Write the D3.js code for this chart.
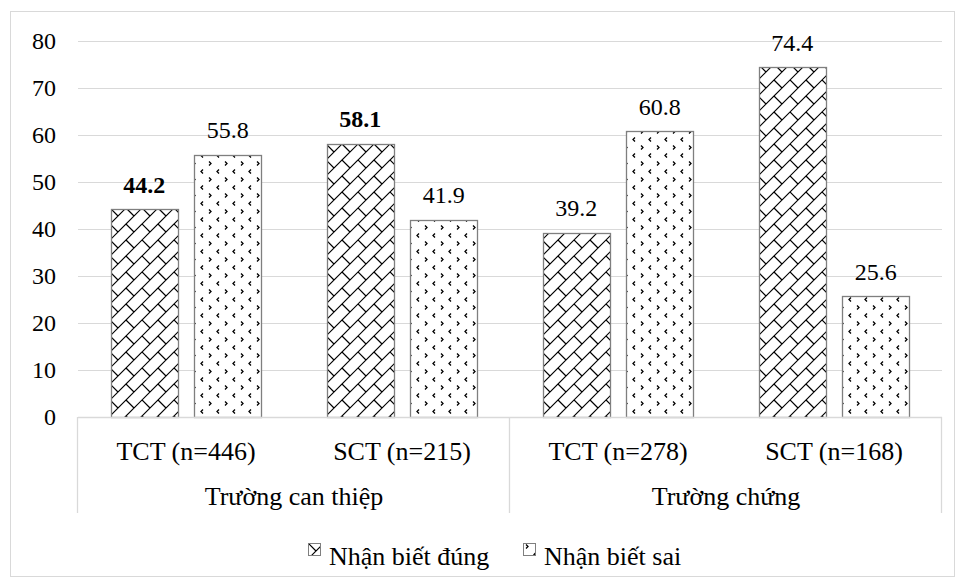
<!DOCTYPE html>
<html>
<head>
<meta charset="utf-8">
<script src="https://cdn.jsdelivr.net/npm/d3@7"></script>
<style>
  html, body { margin: 0; padding: 0; background: #fff; }
  svg { display: block; }
  svg text { font-family: "Liberation Serif", "Times New Roman", serif; fill: #000; }
</style>
</head>
<body>
<svg id="chart" width="956" height="581"></svg>
<script>
// Data
const groups = ["Trường can thiệp", "Trường chứng"];
const categories = ["TCT (n=446)", "SCT (n=215)", "TCT (n=278)", "SCT (n=168)"];
const categoryGroup = [0, 0, 1, 1];
const seriesNames = ["Nhận biết đúng", "Nhận biết sai"];
const correctValues = [44.2, 58.1, 39.2, 74.4];
const wrongValues = [55.8, 41.9, 60.8, 25.6];
const boldLabels = [[true, true, false, false], [false, false, false, false]];
const yTicks = [0, 10, 20, 30, 40, 50, 60, 70, 80];

const seriesValues = [correctValues, wrongValues];

const svg = d3.select("#chart");
const plot = { left: 78, right: 942, top: 41, bottom: 416.5 };
const serif = "'Liberation Serif', 'Times New Roman', serif";

// Fill patterns: diagonal brick and small chevron dots
const defs = svg.append("defs");
const brick = defs.append("pattern")
  .attr("id", "pat-brick").attr("patternUnits", "userSpaceOnUse")
  .attr("width", 32).attr("height", 32);
brick.append("rect").attr("width", 32).attr("height", 32).attr("fill", "#fff");
const brickLines = [0, 16, 32, 48, 64].map(s => `M${-32},${s + 32}L${s + 32},${-32}`);
const brickStubs = ["M0,0L8,8", "M16,16L24,24", "M16,0L24,8", "M0,16L8,24"];
brick.append("path")
  .attr("d", brickLines.concat(brickStubs).join(""))
  .attr("stroke", "#000").attr("stroke-width", 1.2).attr("fill", "none");

const dots = defs.append("pattern")
  .attr("id", "pat-dots").attr("patternUnits", "userSpaceOnUse")
  .attr("width", 16).attr("height", 16);
dots.append("rect").attr("width", 16).attr("height", 16).attr("fill", "#fff");
dots.append("path")
  .attr("d", "M3,1.5L5,3.5L3,5.5M13,9.5L11,11.5L13,13.5")
  .attr("stroke", "#000").attr("stroke-width", 1.3).attr("fill", "none");

const fills = ["url(#pat-brick)", "url(#pat-dots)"];

// Outer frame
svg.append("rect")
  .attr("x", 10.5).attr("y", 11.5).attr("width", 944).attr("height", 565)
  .attr("fill", "#fff").attr("stroke", "#d9d9d9").attr("stroke-width", 1);

// Scales
const y = d3.scaleLinear().domain([0, 80]).range([plot.bottom, plot.top]);
const x0 = d3.scaleBand().domain(categories).range([plot.left, plot.right]).padding(0);
const x1 = d3.scaleBand().domain(seriesNames).range([0, x0.bandwidth()])
  .paddingInner(0.2).paddingOuter(0.39);

// Gridlines
svg.append("g")
  .selectAll("line").data(yTicks.filter(d => d > 0)).join("line")
  .attr("x1", plot.left).attr("x2", plot.right)
  .attr("y1", d => Math.round(y(d)) + 0.5).attr("y2", d => Math.round(y(d)) + 0.5)
  .attr("stroke", "#d9d9d9").attr("stroke-width", 1);

// Y axis labels
const yAxis = d3.axisLeft(y).tickValues(yTicks).tickSize(0).tickPadding(0);
const yg = svg.append("g").attr("transform", `translate(${plot.left - 22},0)`).call(yAxis);
yg.select(".domain").remove();
yg.attr("font-family", null).attr("font-size", null);
yg.selectAll("text")
  .style("font-family", serif)
  .style("font-size", "24px").attr("fill", "#000");

// Bars and value labels
const catG = svg.append("g").selectAll("g").data(categories).join("g")
  .attr("transform", d => `translate(${x0(d)},0)`);

catG.each(function (cat, ci) {
  const g = d3.select(this);
  seriesNames.forEach((s, si) => {
    const v = seriesValues[si][ci];
    g.append("rect")
      .attr("x", Math.round(x1(s)) + 0.5)
      .attr("y", Math.round(y(v)) + 0.5)
      .attr("width", Math.round(x1.bandwidth()))
      .attr("height", Math.round(y(0)) - Math.round(y(v)))
      .attr("fill", fills[si])
      .attr("stroke", "#7f7f7f").attr("stroke-width", 1.3);
    g.append("text")
      .attr("x", x1(s) + x1.bandwidth() / 2)
      .attr("y", y(v) - 16.5)
      .attr("text-anchor", "middle")
      .style("font-family", serif)
      .style("font-size", "24px")
      .style("font-weight", boldLabels[si][ci] ? "bold" : "normal")
      .text(d3.format(".1f")(v));
  });
});

// Category axis baseline and group dividers
svg.append("line")
  .attr("x1", plot.left).attr("x2", plot.right)
  .attr("y1", Math.round(y(0)) + 0.5).attr("y2", Math.round(y(0)) + 0.5)
  .attr("stroke", "#d9d9d9").attr("stroke-width", 1.3);

const groupEdges = [plot.left, x0(categories[2]), plot.right];
svg.append("g").selectAll("line").data(groupEdges).join("line")
  .attr("x1", d => Math.round(d) - 0.5).attr("x2", d => Math.round(d) - 0.5)
  .attr("y1", Math.round(y(0))).attr("y2", 513)
  .attr("stroke", "#d9d9d9").attr("stroke-width", 1.3);

// Category labels
svg.append("g").selectAll("text").data(categories).join("text")
  .attr("x", d => x0(d) + x0.bandwidth() / 2)
  .attr("y", 460)
  .attr("text-anchor", "middle")
  .style("font-family", serif).style("font-size", "26px")
  .text(d => d);

// Group labels
svg.append("g").selectAll("text").data(groups).join("text")
  .attr("x", (d, gi) => {
    const cats = categories.filter((c, i) => categoryGroup[i] === gi);
    return (x0(cats[0]) + x0(cats[cats.length - 1]) + x0.bandwidth()) / 2;
  })
  .attr("y", 505)
  .attr("text-anchor", "middle")
  .style("font-family", serif).style("font-size", "26px")
  .text(d => d);

// Legend
const legendX = [308, 523];
const legend = svg.append("g").selectAll("g").data(seriesNames).join("g")
  .attr("transform", (d, i) => `translate(${legendX[i]},543)`);
legend.append("rect")
  .attr("x", 0.5).attr("y", 0.5).attr("width", 12).attr("height", 12)
  .attr("fill", (d, i) => fills[i]).attr("stroke", "#7f7f7f").attr("stroke-width", 1);
legend.append("text")
  .attr("x", 21).attr("y", 22)
  .style("font-family", serif).style("font-size", "26px")
  .text(d => d);
</script>
</body>
</html>
